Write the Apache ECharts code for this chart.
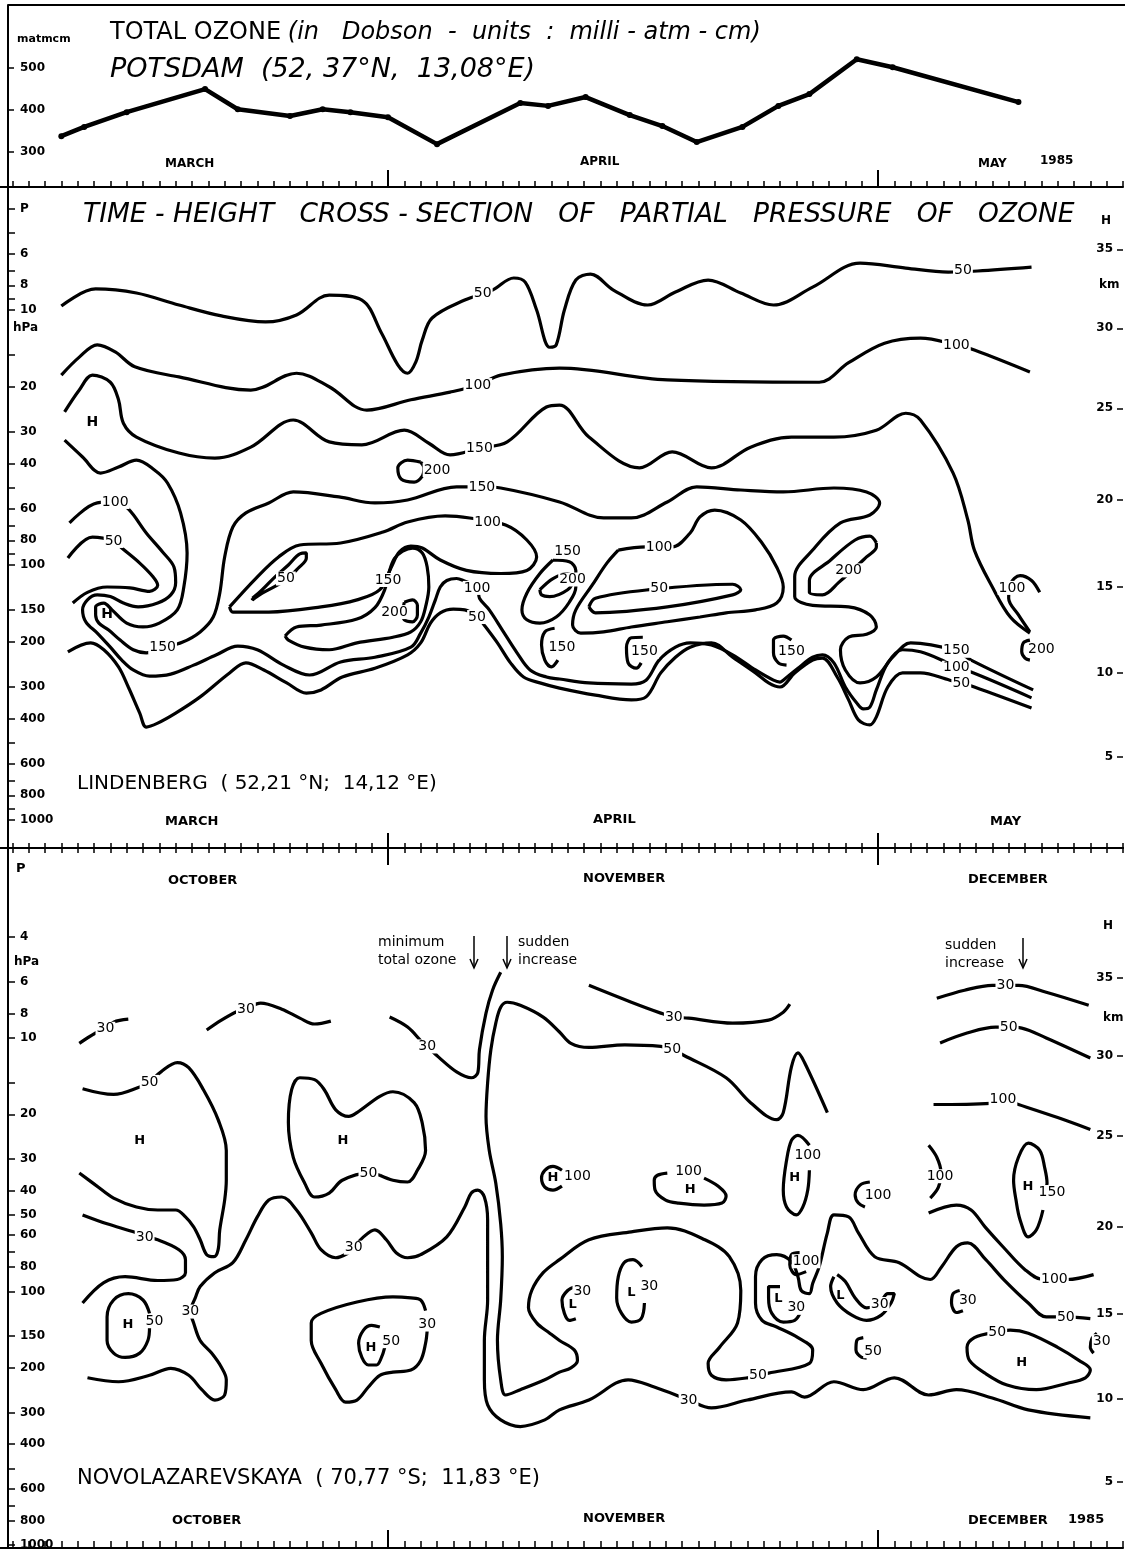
<!DOCTYPE html>
<html><head><meta charset="utf-8">
<script src="https://cdn.jsdelivr.net/npm/echarts@6/dist/echarts.min.js"></script>
<style>html,body{margin:0;padding:0;background:#fff}#c{width:1125px;height:1550px}</style>
</head><body><div id="c"></div>
<script>
// ---------- shared time axis (days counted from the 1st of the first month) ----------
const DAY_MIN = 7, DAY_MAX = 76;
const monthStarts = [31, 61];

// ---------- panel 1 : total ozone, Potsdam ----------
const ozoneDays   = [11.0,12.4,15.0,19.8,21.8,25.0,27.0,28.7,31.0,34.0,39.1,40.8,43.1,45.8,47.8,49.9,52.7,54.9,56.8,59.7,61.9,69.6];
const ozoneValues = [338,360,395,450,402,386,402,395,383,319,417,410,431,388,362,324,360,410,438,521,502,419];
const ozoneTicks  = [300,400,500];

// ---------- pressure / height ticks ----------
const lindPressTicks  = [4,5,6,7,8,9,10,15,20,30,40,50,60,70,80,90,100,150,200,300,400,500,600,700,800,900,1000];
const lindPressLabels = [4,6,8,10,20,30,40,60,80,100,150,200,300,400,600,800,1000];
const novoPressTicks  = [4,6,8,10,15,20,30,40,50,60,70,80,100,150,200,300,400,500,600,700,800,1000];
const novoPressLabels = [4,6,8,10,20,30,40,50,60,80,100,150,200,300,400,600,800,1000];
const kmValues    = [35,30,25,20,15,10,5];
const kmPressures = [5.78,11.8,24.3,55.6,122,264,565];

// ---------- panel 2 : Lindenberg partial pressure contours [day, hPa] ----------
const lind50Top = [[11.0,9.65],[13.1,8.27],[15.6,8.58],[18.2,9.56],[20.8,10.55],[23.5,11.14],[25.4,10.46],[27.4,8.74],[29.4,9.14],[30.6,12.3],[31.6,16.4],[32.2,17.7],[32.7,16.0],[33.1,13.1],[33.7,10.75],[35.7,9.14],[37.4,8.35],[38.7,7.49],[39.4,7.77],[40.1,10.0],[40.9,14.0],[41.3,13.7],[41.8,10.0],[42.5,7.63],[43.4,7.23],[44.8,8.35],[46.9,9.56],[48.6,8.5],[50.6,7.63],[52.6,8.58],[54.6,9.56],[57.0,8.13],[59.9,6.55],[62.7,6.85],[65.3,7.1],[67.1,7.03],[70.4,6.79]];
const lind100 = [[11.0,18.0],[12.1,15.3],[13.2,13.7],[14.3,14.6],[15.5,16.7],[18.2,18.3],[22.6,20.6],[25.4,17.7],[27.4,20.0],[29.7,24.7],[32.4,22.5],[34.8,21.0],[36.5,19.7],[37.9,18.0],[41.5,16.9],[48.1,18.8],[57.4,19.2],[59.2,16.1],[61.4,13.5],[63.6,12.9],[65.8,13.7],[66.9,14.35],[70.3,17.5]];
const lind150Top = [[11.2,25.1],[12.1,20.6],[12.9,18.0],[14.0,19.2],[14.5,22.5],[14.8,27.8],[15.6,31.5],[18.2,36.4],[20.4,38.1],[22.6,34.5],[25.2,27.0],[27.4,32.9],[29.4,33.8],[32.0,29.6],[33.5,33.3],[34.8,37.0],[36.6,34.8],[38.3,32.9],[40.7,24.0],[41.5,23.6],[43.3,31.5],[46.4,41.6],[48.4,36.0],[50.8,41.6],[53.2,34.5],[55.7,31.5],[58.3,31.5],[60.9,29.6],[62.7,25.4],[63.6,27.0],[65.6,43.6],[66.5,66.6],[66.9,87.4],[68.0,122],[69.1,160],[70.3,185]];
const lind200a = [[33.0,39.5],[32.2,38.8],[31.6,41.6],[31.8,46.0],[32.6,47.3],[33.1,44.8],[33.2,41.6],[33.0,39.5]];
const lind150Long = [[11.2,32.4],[12.3,37.7],[13.4,43.6],[14.5,41.3],[15.6,38.8],[16.7,42.4],[17.5,47.7],[18.3,62.5],[18.7,89.8],[18.5,122],[18.1,150],[17.0,169],[16.0,175],[15.0,169],[14.1,150],[13.6,141],[13.1,146],[13.1,157],[13.3,169],[13.9,180],[14.6,197],[15.4,215],[16.2,221],[17.2,211],[18.4,201],[19.5,183],[20.3,160],[20.7,129],[21.0,93],[21.5,71],[22.3,62.5],[23.7,57.1],[25.2,51.7],[28.0,54.1],[30.2,57.1],[32.2,55.6],[35.2,49.4],[36.8,49.4],[37.9,49.9],[41.5,56.6],[44.2,65.4],[45.9,65.4],[48.1,56.6],[49.9,49.4],[52.6,50.8],[55.2,51.7],[58.3,49.9],[60.3,51.7],[61.1,57.1],[60.5,63.7],[58.7,68.4],[57.0,87.4],[55.9,111],[55.9,133],[57.0,144],[59.2,146],[60.5,157],[60.9,175],[60.3,187],[59.2,192],[58.7,215],[59.0,258],[59.9,290],[60.9,275],[61.9,230],[63.0,202],[65.8,217],[66.7,236],[70.5,309]];
const lind100Long = [[11.5,68.4],[13.2,57.1],[14.3,56.6],[15.1,60.3],[16.2,74.9],[17.2,88.9],[17.9,102],[18.0,117],[17.7,131],[16.9,141],[15.7,146],[14.8,141],[14.0,133],[13.2,131],[12.6,137],[12.3,150],[12.5,167],[13.2,185],[14.0,210],[14.7,236],[15.4,258],[16.4,273],[17.7,268],[19.1,247],[20.5,225],[21.8,208],[23.0,215],[24.6,247],[26.2,270],[28.1,240],[30.2,230],[32.4,210],[33.0,185],[33.5,160],[33.9,137],[34.2,122],[34.6,115],[35.2,113],[35.6,115],[36.5,123],[36.6,135],[37.2,150],[38.0,180],[38.9,221],[39.7,258],[40.7,275],[41.5,280],[43.3,290],[45.9,293],[46.8,283],[47.6,236],[48.6,210],[49.5,202],[50.8,206],[52.1,225],[53.5,258],[54.6,283],[55.0,288],[55.2,283],[56.1,254],[57.0,230],[57.6,225],[58.3,242],[59.0,301],[59.7,348],[60.1,367],[60.5,361],[60.9,309],[61.6,242],[62.5,215],[63.6,219],[64.9,236],[65.8,254],[66.7,263],[70.4,332]];
const lind50Long = [[11.4,219],[12.8,202],[13.6,215],[14.5,251],[15.1,301],[15.8,381],[16.2,432],[16.9,417],[18.0,381],[19.5,329],[21.3,265],[22.3,242],[23.4,258],[24.8,290],[26.0,318],[26.9,309],[28.2,275],[30.2,254],[32.2,225],[33.0,202],[33.6,169],[34.2,154],[35.0,149],[35.7,150],[36.5,160],[36.8,169],[37.7,202],[38.5,242],[39.3,275],[40.3,290],[41.5,304],[43.7,324],[45.9,338],[46.8,329],[47.7,265],[48.6,230],[49.5,210],[50.8,202],[52.1,230],[53.5,265],[54.3,290],[55.0,301],[55.9,265],[57.0,236],[57.6,232],[58.5,275],[59.2,338],[59.8,405],[60.5,424],[60.9,394],[61.6,301],[62.5,265],[63.6,265],[65.4,283],[66.1,290],[66.9,301],[70.4,364]];
const lind50Left = [[11.4,93.9],[12.9,77.7],[14.2,80.5],[14.7,85.8],[15.8,98.3],[16.6,111],[16.9,120],[16.4,127],[15.2,123],[13.8,122],[12.6,128],[11.7,141]];
const lind100Tri = [[21.3,146],[22.9,113],[24.3,93],[25.6,83.5],[28.1,82],[30.7,74.3],[32.2,67.8],[34.5,64.2],[36.0,65.4],[38.2,69.7],[39.5,79.8],[40.1,93],[39.5,105],[37.9,108],[35.8,105],[34.2,95.6],[33.1,85.8],[32.4,84.3],[31.7,88.9],[31.2,102],[30.5,125],[29.1,137],[26.9,146],[23.7,153],[21.5,153],[21.3,146]];
const lind50Small = [[22.7,135],[23.3,125],[24.1,111],[24.9,100],[25.6,90.5],[26.0,89.7],[26.0,93.9],[25.5,103],[24.7,115],[23.3,129],[22.7,137],[22.7,135]];
const lind200b = [[32.0,140],[32.5,137],[32.8,144],[32.8,157],[32.5,167],[32.0,164],[31.9,154],[32.0,140]];
const lind150Lens = [[24.7,190],[25.4,175],[26.9,172],[29.1,163],[30.2,147],[30.8,125],[31.1,105],[31.4,94.3],[31.9,88.2],[32.5,85.8],[33.1,89.7],[33.4,102],[33.5,122],[33.3,146],[33.0,167],[32.4,183],[31.3,192],[29.1,202],[27.4,215],[25.9,210],[24.9,197],[24.7,190]];
const lind100Loop = [[45.1,87.4],[46.8,84.9],[48.4,84.9],[49.5,74.9],[50.1,64.8],[51.0,60.9],[52.6,66.6],[53.9,82],[54.8,102],[55.2,122],[54.8,141],[53.5,150],[51.7,154],[50.1,160],[48.1,167],[45.9,175],[44.2,183],[42.8,185],[42.3,172],[42.5,150],[43.5,120],[44.4,98.3],[45.1,87.4]];
const lind50Inner = [[43.3,146],[43.7,135],[47.0,125],[52.1,119],[52.6,125],[52.1,131],[48.1,146],[43.7,154],[43.3,146]];
const lind150Small = [[41.1,95.6],[40.3,108],[39.5,129],[39.2,150],[39.5,164],[40.3,169],[41.3,160],[42.1,140],[42.5,122],[42.5,105],[42.1,97.2],[41.1,95.6]];
const lind200c = [[40.3,125],[41.1,113],[42.0,108],[42.3,115],[42.0,125],[40.9,133],[40.4,131],[40.3,125]];
const lind150c1 = [[41.2,177],[40.6,183],[40.4,206],[40.6,236],[41.0,251],[41.4,236]];
const lind150c2 = [[46.6,192],[45.9,193],[45.6,210],[45.7,242],[46.2,254],[46.5,242]];
const lind150c3 = [[55.7,197],[55.2,190],[54.6,197],[54.6,221],[54.9,242],[55.4,247]];
const lind200d = [[60.9,81.9],[60.5,77],[59.6,79.8],[58.1,95.6],[56.8,115],[56.8,128],[57.6,131],[58.6,117],[60.3,93],[60.9,85],[60.9,81.9]];
const lind100e = [[70.9,128],[70.4,115],[69.7,110],[69.1,119],[69.0,135],[69.6,157],[70.3,183]];
const lind200e = [[70.3,197],[69.9,202],[69.8,219],[70.0,232],[70.3,236]];
const lindContours = [lind50Top,lind100,lind150Top,lind200a,lind150Long,lind100Long,lind50Long,lind50Left,lind100Tri,lind50Small,lind200b,lind150Lens,lind100Loop,lind50Inner,lind150Small,lind200c,lind150c1,lind150c2,lind150c3,lind200d,lind100e,lind200e];
const lindLabels = [[36.8,8.6,'50'],[66.2,6.97,'50'],[36.5,19.7,'100'],[65.8,13.7,'100'],[36.6,34.8,'150'],[34.0,42.4,'200'],[17.2,211,'150'],[36.75,49.4,'150'],[65.8,217,'150'],[14.3,56.6,'100'],[36.45,123,'100'],[65.8,253,'100'],[36.45,160,'50'],[66.1,290,'50'],[14.2,80.5,'50'],[37.1,67.8,'100'],[24.75,113,'50'],[31.4,153,'200'],[31.0,114.5,'150'],[47.6,84.9,'100'],[47.6,124,'50'],[42.0,88.5,'150'],[42.3,114,'200'],[41.65,210,'150'],[46.7,219,'150'],[55.7,219,'150'],[59.2,105,'200'],[69.2,123,'100'],[71.0,215,'200']];
const lindMarks = [[12.9,27.5,'H'],[13.8,156,'H']];

// ---------- panel 3 : Novolazarevskaya contours [day, hPa] ----------
const nov30a = [[12.1,10.5],[13.1,9.56],[13.7,9.22],[14.2,8.66],[15.1,8.43]];
const nov30b = [[19.9,9.3],[20.8,8.5],[21.8,7.84],[22.3,7.7],[23.2,7.29],[24.5,7.7],[25.6,8.35],[26.5,8.81],[27.5,8.58]];
const nov30c = [[31.1,8.27],[32.2,9.06],[33.1,10.4],[33.4,10.8],[34.1,11.9],[35.2,13.6],[36.1,14.35],[36.5,13.7],[36.6,11.1],[37.0,7.98],[37.4,6.48],[37.9,5.51]];
const nov30d = [[43.3,6.2],[45.9,7.23],[47.7,7.98],[48.5,8.27],[49.4,8.35],[52.1,8.74],[54.3,8.5],[55.2,7.91],[55.6,7.36]];
const nov50Long = [[57.9,19.7],[56.5,12.5],[56.1,11.45],[55.7,13.0],[55.2,19.7],[54.8,21.0],[53.2,18.0],[51.7,14.35],[49.1,11.7],[48.4,11.1],[47.7,10.8],[45.5,10.65],[43.3,10.9],[42.2,10.5],[41.5,9.47],[40.5,8.27],[39.1,7.43],[38.3,7.23],[37.9,7.56],[37.6,8.74],[37.3,11.1],[37.1,15.0],[37.0,20.4],[37.2,27.8],[37.6,37.4],[37.9,54.1],[38.0,72.9],[37.9,108],[37.7,156],[37.9,223],[38.2,256],[39.1,244],[40.6,223],[41.5,208],[42.2,200],[42.6,187],[42.4,170],[41.5,156],[40.9,146],[40.1,133],[39.6,116],[39.8,99.1],[40.5,84.3],[41.5,74.9],[43.3,62.5],[45.9,58.2],[48.1,56.1],[50.4,62.5],[51.9,72.9],[52.6,99.1],[52.4,133],[51.3,166],[50.6,192],[50.8,214],[51.7,223],[53.0,219],[53.7,214],[54.3,210],[56.8,192],[57.0,170],[56.1,152],[54.8,138],[53.9,130],[53.5,111],[53.5,87.4],[53.9,74.9],[54.8,71.6],[55.7,76.3],[56.1,87.4],[56.3,99.1],[56.8,102],[57.0,93],[57.4,79.8],[57.9,58.7],[58.3,49.9],[59.2,50.8],[59.8,58.7],[60.8,72.9],[62.3,77],[63.6,87.4],[64.2,89.7],[64.9,79.8],[65.8,66.6],[66.5,64.3],[67.6,74.9],[68.7,89.7],[70.2,111],[71.3,126],[72.5,126],[74.0,128]];
const nov50H1 = [[12.3,15.85],[14.2,16.7],[15.8,15.6],[16.4,14.9],[17.1,13.6],[18.1,12.5],[18.8,13.1],[19.7,16.0],[20.6,21.0],[21.1,27.8],[21.1,36.4],[21.0,43.6],[20.7,57.1],[20.6,68.4],[20.35,72.9],[19.9,71.6],[19.5,62.5],[19.1,55.6],[18.6,50.8],[18.0,47.7],[16.9,47.7],[15.6,46.4],[14.2,42.8],[13.1,38.05],[12.1,34.1]];
const nov30e = [[12.3,49.9],[13.8,54.1],[15.6,58.7],[16.1,60.9],[16.9,62.5],[18.2,68.4],[18.6,74.9],[18.6,84.3],[18.1,89.7],[16.9,90.5],[14.9,87.4],[13.6,92.2],[12.3,111]];
const nov50H2 = [[16.4,122],[16.0,108],[15.1,102],[14.2,108],[13.8,126],[13.8,156],[14.2,175],[14.9,182],[15.8,175],[16.3,156],[16.4,138]];
const nov30Long = [[12.6,219],[14.5,227],[16.4,214],[17.7,201],[18.8,214],[19.6,244],[20.4,268],[21.0,256],[21.1,223],[20.8,199],[20.2,175],[19.5,156],[19.1,133],[18.9,120],[19.2,106],[19.5,95.6],[20.4,84.3],[21.5,77],[22.3,62.5],[23.0,50.8],[23.7,43.6],[24.5,42.4],[25.4,47.7],[26.3,58.7],[26.9,68.4],[27.8,73.6],[28.6,70.3],[28.9,67.2],[29.5,60.9],[30.2,57.1],[30.9,62.5],[31.5,70.3],[32.2,73.6],[33.0,71.6],[34.6,60.9],[35.7,46.4],[36.1,40.9],[36.5,39.8],[36.9,42.4],[37.1,52.2],[37.1,74.9],[37.1,108],[36.9,156],[36.9,223],[37.1,280],[37.9,321],[39.1,341],[40.6,321],[41.5,293],[43.3,268],[45.7,223],[47.3,238],[49.1,263],[49.4,268],[50.8,288],[53.0,268],[55.7,249],[56.5,261],[58.3,227],[60.1,244],[62.0,219],[64.1,256],[65.8,244],[68.0,263],[70.2,293],[74.0,315]];
const nov50H3 = [[30.5,34.8],[31.3,36.4],[32.2,37.0],[32.8,33.25],[33.3,27.8],[33.1,21.7],[32.6,18.0],[31.3,16.3],[30.5,17.0],[29.1,19.7],[28.6,20.4],[27.8,19.2],[27.1,16.0],[26.5,14.6],[25.6,14.35],[25.1,16.0],[24.9,21.5],[25.2,29.6],[25.9,37.4],[26.5,42.4],[27.4,40.9],[28.2,36.4],[29.8,34.1],[30.5,34.8]];
const nov50H4 = [[30.5,138],[30.0,136],[29.5,142],[29.2,160],[29.4,182],[29.8,195],[30.3,195],[30.6,182],[30.8,166]];
const nov30f = [[33.3,119],[33.0,108],[32.4,106],[31.3,105],[29.1,110],[26.9,122],[26.3,133],[26.3,156],[26.9,192],[27.8,244],[28.4,273],[29.1,268],[29.8,238],[30.5,214],[31.3,208],[32.4,204],[33.0,187],[33.3,160],[33.4,142]];
const nov30L1 = [[42.5,95.6],[42.0,99.1],[41.65,108],[41.8,122],[42.1,130],[42.5,128]];
const nov30L2 = [[46.55,79.8],[46.0,74.9],[45.45,77],[45.1,87.4],[45.0,106],[45.3,122],[45.9,132],[46.5,128],[46.7,111]];
const novH100a = [[41.65,33.25],[41.1,32.1],[40.6,33.25],[40.4,35.7],[40.6,38.75],[41.1,39.8],[41.65,38.4]];
const novH100b = [[48.1,34.1],[47.5,34.8],[47.3,36.4],[47.35,39.8],[48.0,43.6],[48.8,44.8],[50.35,45.6],[51.45,44.8],[51.7,42.0],[51.2,38.4],[50.35,35.7]];
const novH100c = [[56.8,26.5],[56.1,24.2],[55.7,25.35],[55.4,30.4],[55.2,39.8],[55.4,46.4],[56.0,49.9],[56.4,46.4],[56.7,39.8],[56.8,33.25]];
const nov100d = [[60.5,37.0],[59.9,38.05],[59.6,41.6],[59.8,44.8],[60.2,46.4]];
const nov100e = [[64.1,26.5],[64.6,29.55],[64.85,33.8],[64.7,38.75],[64.2,42.8]];
const nov100f = [[64.1,49.0],[65.8,45.6],[66.7,47.7],[67.55,55.6],[68.65,66.6],[70.0,82],[71.1,89.7],[71.8,89.7],[72.6,89.7],[74.2,85.8]];
const nov150H = [[71.1,40.9],[71.35,37.4],[71.2,32.35],[70.9,27.75],[70.2,26.0],[69.6,29.55],[69.3,36.4],[69.45,43.6],[69.7,52.2],[70.2,60.9],[70.7,57.1],[71.1,47.7]];
const nov30L3 = [[58.3,87.4],[58.1,95.6],[58.5,111],[59.4,124],[60.3,130],[61.2,124],[61.8,111],[62.0,102],[61.6,102],[61.1,111],[60.3,116],[59.6,106],[59.0,91.4],[58.5,85.8]];
const nov100g = [[56.2,70.3],[55.7,71.6],[55.6,78.4],[56.0,85.8],[56.6,83.5]];
const nov30L4 = [[55.0,95.6],[54.3,95.6],[54.3,106],[54.5,122],[55.2,132],[55.9,130],[56.3,119]];
const nov30g = [[66.0,99.1],[65.6,102],[65.5,111],[65.8,121],[66.2,119]];
const nov50g = [[60.1,152],[59.7,156],[59.65,170],[60.0,182],[60.3,183]];
const nov50H5 = [[68.0,146],[66.9,152],[66.45,166],[66.6,187],[67.55,210],[68.9,234],[70.7,244],[72.6,230],[73.7,219],[74.0,204],[73.3,187],[72.0,166],[70.2,146],[69.1,142],[68.0,146]];
const nov30h = [[74.4,146],[74.1,153],[74.0,166],[74.2,175]];
const nov30i = [[64.6,6.97],[66.3,6.48],[68.0,6.2],[68.8,6.2],[69.6,6.2],[71.3,6.6],[73.9,7.43]];
const nov50i = [[64.8,10.46],[66.45,9.56],[68.2,9.06],[69.0,9.06],[69.8,9.14],[71.3,10.0],[74.0,12.0]];
const nov100i = [[64.4,18.3],[67.9,18.1],[68.65,17.5],[69.6,18.3],[72.0,20.6],[74.0,22.95]];
const novoContours = [nov30a,nov30b,nov30c,nov30d,nov50Long,nov50H1,nov30e,nov50H2,nov30Long,nov50H3,nov50H4,nov30f,nov30L1,nov30L2,novH100a,novH100b,novH100c,nov100d,nov100e,nov100f,nov150H,nov30L3,nov100g,nov30L4,nov30g,nov50g,nov50H5,nov30h,nov30i,nov50i,nov100i];
const novoLabels = [[13.7,9.2,'30'],[22.3,7.7,'30'],[33.4,10.8,'30'],[48.5,8.27,'30'],[48.4,11.1,'50'],[16.4,14.9,'50'],[16.1,60.9,'30'],[16.7,131,'50'],[18.9,120,'30'],[28.9,67.2,'30'],[49.4,268,'30'],[29.8,34.1,'50'],[31.2,157,'50'],[33.4,135,'30'],[53.65,213.5,'50'],[72.5,126,'50'],[42.9,100,'30'],[47.0,95.6,'30'],[42.6,35.1,'100'],[49.4,33.6,'100'],[56.7,29.0,'100'],[61.0,41.9,'100'],[64.8,35.1,'100'],[71.8,89.7,'100'],[71.65,40.5,'150'],[61.1,112,'30'],[56.6,76,'100'],[56.0,116,'30'],[66.5,108,'30'],[60.7,172,'50'],[68.3,145,'50'],[74.7,157,'30'],[68.8,6.2,'30'],[69.0,9.06,'50'],[68.65,17.5,'100']];
const novoMarks = [[15.8,25.35,'H'],[28.24,25.35,'H'],[15.08,134.7,'H'],[29.96,166,'H'],[41.1,35.7,'H'],[49.5,39.8,'H'],[55.9,35.4,'H'],[70.18,38.75,'H'],[69.8,190,'H'],[42.3,113,'L'],[45.9,101,'L'],[58.7,104,'L'],[54.9,107,'L']];

// ---------- layout constants ----------
const P2_TOP = 3.293, P2_BOT = 1288, P3_TOP = 1.781, P3_BOT = 1027.5;
const FONT = 'DejaVu Sans';

function minorX(g, pos, len) {
  return {type:'value', gridIndex:g, position:pos, min:DAY_MIN, max:DAY_MAX, interval:1,
    axisLine:{show:true, onZero:false, lineStyle:{color:'#000', width:2}},
    axisTick:{show:true, inside:true, length:len, lineStyle:{color:'#000', width:1.5}},
    axisLabel:{show:false}, splitLine:{show:false}};
}
function majorX(g, pos, len) {
  return {type:'value', gridIndex:g, position:pos, min:DAY_MIN, max:DAY_MAX,
    axisLine:{show:false, onZero:false},
    axisTick:{show:true, inside:true, length:len, customValues:monthStarts, lineStyle:{color:'#000', width:2}},
    axisLabel:{show:false}, splitLine:{show:false}};
}
function pressAxis(g, top, bot, ticks, labels, pLabel) {
  return {type:'log', logBase:10, gridIndex:g, position:'left', offset:-12, inverse:true, min:top, max:bot,
    axisLine:{show:true, onZero:false, lineStyle:{color:'#000', width:2}},
    axisTick:{show:true, inside:true, length:7, customValues:ticks, lineStyle:{color:'#000', width:1.5}},
    axisLabel:{show:true, inside:true, margin:12, customValues:labels, color:'#000', fontFamily:FONT, fontWeight:'bold', fontSize:12,
      formatter: v => (pLabel && Math.round(v) === 4) ? 'P' : String(Math.round(v))},
    splitLine:{show:false}};
}
function kmAxis(g, top, bot) {
  return {type:'log', logBase:10, gridIndex:g, position:'right', inverse:true, min:top, max:bot,
    axisLine:{show:false},
    axisTick:{show:true, inside:true, length:6, customValues:kmPressures, lineStyle:{color:'#000', width:1.5}},
    axisLabel:{show:true, inside:true, margin:10, customValues:kmPressures, color:'#000', fontFamily:FONT, fontWeight:'bold', fontSize:12,
      formatter: v => { let b = 0; kmPressures.forEach((p,i)=>{ if (Math.abs(Math.log(p/v)) < Math.abs(Math.log(kmPressures[b]/v))) b = i; }); return String(kmValues[b]); }},
    splitLine:{show:false}};
}
function contour(data, xi, yi) {
  return {type:'line', xAxisIndex:xi, yAxisIndex:yi, data, smooth:0.35, symbol:'none', silent:true,
    lineStyle:{color:'#000', width:3.2}, z:2};
}
function labelSeries(items, xi, yi, bg, size, weight) {
  return {type:'scatter', xAxisIndex:xi, yAxisIndex:yi, symbol:'circle', symbolSize:1, silent:true, z:10,
    itemStyle:{color:'#fff', opacity:1},
    data: items.map(t => ({value:[t[0], t[1]], name:t[2]})),
    label:{show:true, position:'inside', formatter: p => p.name, color:'#000', opacity:1, textBorderWidth:0,
      fontFamily:FONT, fontSize:size, fontWeight:weight,
      backgroundColor: bg ? '#fff' : 'transparent', padding: bg ? [0,1] : 0}};
}

const series = [];
series.push({type:'line', xAxisIndex:0, yAxisIndex:0, data: ozoneDays.map((d,i)=>[d, ozoneValues[i]]),
  symbol:'circle', symbolSize:6, lineStyle:{color:'#000', width:4.5}, itemStyle:{color:'#000'}, z:3, silent:true});
lindContours.forEach(c => series.push(contour(c, 2, 1)));
series.push(labelSeries(lindLabels, 2, 1, true, 14, 'normal'));
series.push(labelSeries(lindMarks, 2, 1, false, 14, 'bold'));
novoContours.forEach(c => series.push(contour(c, 6, 3)));
series.push(labelSeries(novoLabels, 6, 3, true, 14, 'normal'));
series.push(labelSeries(novoMarks, 6, 3, false, 13, 'bold'));

function txt(left, top, text, size, extra) {
  return Object.assign({type:'text', left, top, z:100, silent:true,
    style:Object.assign({text, fill:'#000', fontFamily:FONT, fontSize:size, fontWeight:'bold'}, extra || {})});
}
function arrow(x, y1, y2) {
  return [
    {type:'line', z:100, silent:true, shape:{x1:x, y1:y1, x2:x, y2:y2-1}, style:{stroke:'#000', lineWidth:1.5}},
    {type:'polyline', z:100, silent:true, shape:{points:[[x-4,y2-9],[x,y2],[x+4,y2-9]]}, style:{stroke:'#000', lineWidth:1.5, fill:null}}
  ];
}
const graphics = [
  {type:'line', z:100, silent:true, shape:{x1:8, y1:5, x2:1125, y2:5}, style:{stroke:'#000', lineWidth:2}},
  txt(17, 34, 'matmcm', 11),
  {type:'text', left:110, top:21, z:100, silent:true, style:{text:'{a|TOTAL OZONE}  {b|(in   Dobson  -  units  :  milli - atm - cm)}', fill:'#000',
    rich:{a:{fontFamily:FONT, fontSize:24, fill:'#000'}, b:{fontFamily:FONT, fontSize:24, fontStyle:'italic', fill:'#000'}}}},
  txt(110, 56, 'POTSDAM  (52, 37°N,  13,08°E)', 27, {fontStyle:'italic', fontWeight:'normal'}),
  txt(165, 158, 'MARCH', 12), txt(580, 156, 'APRIL', 12), txt(978, 158, 'MAY', 12), txt(1040, 155, '1985', 12),
  txt(83, 202, 'TIME - HEIGHT   CROSS - SECTION   OF   PARTIAL   PRESSURE   OF   OZONE', 26.5, {fontStyle:'italic', fontWeight:'normal'}),
  txt(13, 322, 'hPa', 12),
  txt(1101, 215, 'H', 12), txt(1099, 279, 'km', 12),
  txt(77, 774, 'LINDENBERG  ( 52,21 °N;  14,12 °E)', 20, {fontWeight:'normal'}),
  txt(165, 815, 'MARCH', 13), txt(593, 813, 'APRIL', 13), txt(990, 815, 'MAY', 13),
  txt(16, 862, 'P', 13),
  txt(14, 956, 'hPa', 12),
  txt(168, 874, 'OCTOBER', 13), txt(583, 872, 'NOVEMBER', 13), txt(968, 873, 'DECEMBER', 13),
  txt(1103, 920, 'H', 12), txt(1103, 1012, 'km', 12),
  txt(378, 935, 'minimum', 14, {fontWeight:'normal'}), txt(378, 953, 'total ozone', 14, {fontWeight:'normal'}),
  txt(518, 935, 'sudden', 14, {fontWeight:'normal'}), txt(518, 953, 'increase', 14, {fontWeight:'normal'}),
  txt(945, 938, 'sudden', 14, {fontWeight:'normal'}), txt(945, 956, 'increase', 14, {fontWeight:'normal'}),
  ...arrow(474, 936, 968), ...arrow(507, 936, 968), ...arrow(1023, 938, 968),
  txt(77, 1468, 'NOVOLAZAREVSKAYA  ( 70,77 °S;  11,83 °E)', 21, {fontWeight:'normal'}),
  txt(172, 1514, 'OCTOBER', 13), txt(583, 1512, 'NOVEMBER', 13), txt(968, 1514, 'DECEMBER', 13), txt(1068, 1513, '1985', 13)
];

const option = {
  animation:false,
  backgroundColor:'#fff',
  grid:[
    {left:-4, right:2, top:5, height:182, containLabel:false, outerBoundsMode:'none'},
    {left:-4, right:2, top:187, height:661, containLabel:false, outerBoundsMode:'none'},
    {left:-4, right:2, top:848, height:700, containLabel:false, outerBoundsMode:'none'}
  ],
  xAxis:[
    minorX(0,'bottom',6), majorX(0,'bottom',17),
    minorX(1,'bottom',5), majorX(1,'bottom',15),
    minorX(2,'top',5), majorX(2,'top',17),
    minorX(2,'bottom',7), majorX(2,'bottom',18)
  ],
  yAxis:[
    {type:'value', gridIndex:0, position:'left', offset:-12, min:217, max:650,
      axisLine:{show:true, onZero:false, lineStyle:{color:'#000', width:2}},
      axisTick:{show:true, inside:true, length:6, customValues:ozoneTicks, lineStyle:{color:'#000', width:1.5}},
      axisLabel:{show:true, inside:true, margin:12, customValues:ozoneTicks, color:'#000', fontFamily:FONT, fontWeight:'bold', fontSize:12},
      splitLine:{show:false}},
    pressAxis(1, P2_TOP, P2_BOT, lindPressTicks, lindPressLabels, true),
    kmAxis(1, P2_TOP, P2_BOT),
    pressAxis(2, P3_TOP, P3_BOT, novoPressTicks, novoPressLabels, false),
    kmAxis(2, P3_TOP, P3_BOT)
  ],
  series,
  graphic: graphics
};
const chart = echarts.init(document.getElementById('c'));
chart.setOption(option);
</script></body></html>
